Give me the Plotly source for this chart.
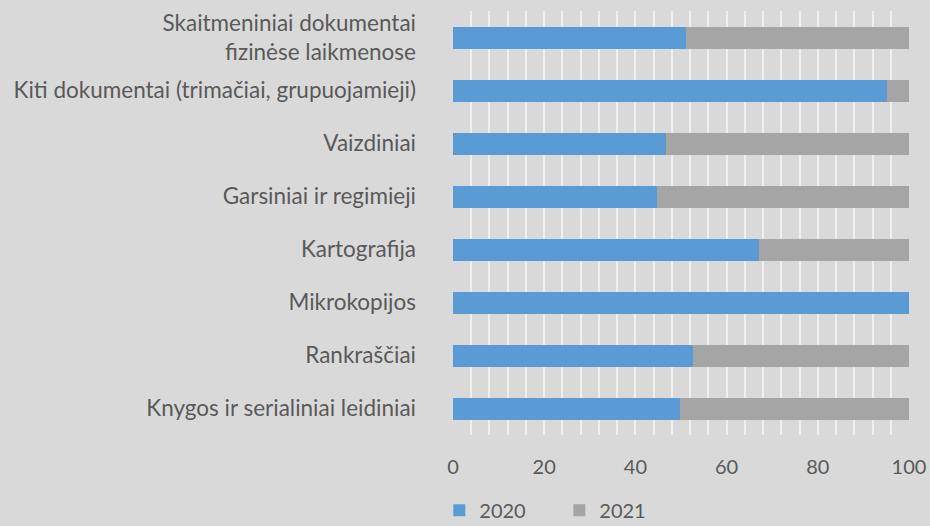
import plotly.graph_objects as go

categories = [
    "Knygos ir serialiniai leidiniai",
    "Rankraščiai",
    "Mikrokopijos",
    "Kartografija",
    "Garsiniai ir regimieji",
    "Vaizdiniai",
    "Kiti dokumentai (trimačiai, grupuojamieji)",
    "Skaitmeniniai dokumentai<br>fizinėse laikmenose",
]
values_2020 = [49.8, 52.6, 100.0, 67.1, 44.7, 46.7, 95.2, 51.1]
values_2021 = [50.2, 47.4, 0.0, 32.9, 55.3, 53.3, 4.8, 48.9]
x_ticks = [0, 20, 40, 60, 80, 100]

font_family = "Lato, 'Open Sans', sans-serif"
text_color = "#595959"
bg = "#d9d9d9"

fig = go.Figure()
fig.add_trace(go.Bar(y=categories, x=values_2020, name="2020", orientation="h",
                     marker=dict(color="#5b9bd5", line=dict(width=0))))
fig.add_trace(go.Bar(y=categories, x=values_2021, name="2021", orientation="h",
                     marker=dict(color="#a5a5a5", line=dict(width=0))))

fig.update_layout(
    barmode="stack",
    bargap=0.585,
    width=930, height=526,
    paper_bgcolor=bg, plot_bgcolor=bg,
    margin=dict(l=453, r=21, t=11, b=91, autoexpand=False),
    font=dict(family=font_family, size=20, color=text_color),
    legend=dict(orientation="h", x=-0.03, xanchor="left",
                yref="container", y=0.03, yanchor="middle",
                traceorder="normal",
                font=dict(size=20, color=text_color), itemwidth=30,
                entrywidth=75, entrywidthmode="pixels",
                bgcolor="rgba(0,0,0,0)"),
    xaxis=dict(range=[0, 100], tickvals=x_ticks, showgrid=True, gridcolor="#efefef",
               gridwidth=1.5, zeroline=False, showline=False, ticks="", automargin=False,
               minor=dict(dtick=4, showgrid=True, gridcolor="#efefef", gridwidth=1.5),
               tickfont=dict(size=20, color=text_color), ticklabelstandoff=18),
    yaxis=dict(showgrid=False, zeroline=False, showline=False, ticks="", automargin=False,
               tickfont=dict(size=22.5, color=text_color), ticklabelstandoff=36),
)

fig.write_html("out.html", config={"displayModeBar": False},
               post_script="document.body.style.margin='0';document.body.style.overflow='hidden';")
